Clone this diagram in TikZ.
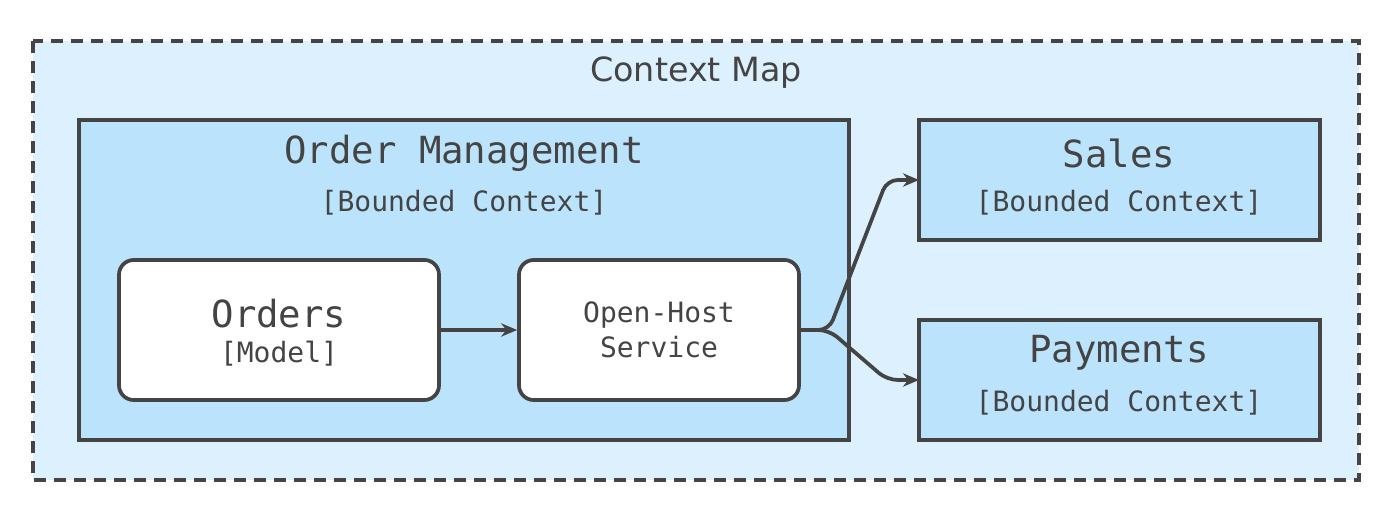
\documentclass[tikz,border=0pt]{standalone}
\usepackage{fontspec}
\setmainfont{DejaVu Sans}
\newfontfamily\mono{DejaVu Sans Mono}
\usetikzlibrary{arrows.meta}
\definecolor{ln}{HTML}{444444}
\definecolor{outer}{HTML}{DDF0FE}
\definecolor{inner}{HTML}{BBE3FB}
\begin{document}
\begin{tikzpicture}[x=0.75pt,y=-0.75pt,
  box/.style={draw=ln,line width=2.8pt,fill=inner},
  rbox/.style={draw=ln,line width=2.8pt,fill=white,rounded corners=11pt},
  arr/.style={draw=ln,line width=2.8pt,-{Stealth[length=12pt,width=10pt]},rounded corners=8pt},
  ttl/.style={font=\mono\fontsize{28}{30}\selectfont,text=ln},
  sub/.style={font=\mono\fontsize{21}{24}\selectfont,text=ln}]
\useasboundingbox (0,0) rectangle (1400,521);
\draw[ln,line width=2.8pt,dash pattern=on 9pt off 6pt,fill=outer] (33,41) rectangle (1359,480);
\node[font=\fontsize{25}{28}\selectfont,text=ln] (cm) at (696,73) {Context Map};
\draw[box] (79,120) rectangle (849,440);
\node[ttl] (omt) at (464,153) {Order Management};
\node[sub] (oms) at (464,203) {[Bounded Context]};
\draw[box] (919,120) rectangle (1320,240);
\node[ttl] (st) at (1119,153) {Sales};
\node[sub] (ss) at (1119,203) {[Bounded Context]};
\draw[box] (919,320) rectangle (1320,440);
\node[ttl] (pt) at (1119,353) {Payments};
\node[sub] (ps) at (1119,403) {[Bounded Context]};
\node[rbox,minimum width=240pt,minimum height=105pt] (orders) at (279,330) {};
\node[ttl] at (279,314) {Orders};
\node[sub] at (279,354) {[Model]};
\node[rbox,minimum width=210pt,minimum height=105pt,align=center,font=\mono\fontsize{21}{26}\selectfont,text=ln] (ohs) at (659,330) {Open-Host\\Service};
\coordinate (sw) at (919,180);
\coordinate (pw) at (919,380);
\draw[arr] (orders.east) -- (ohs.west);
\draw[arr] (ohs.east) -- (829,330) -- (887,180) -- (sw);
\draw[arr] (ohs.east) -- (829,330) -- (887,380) -- (pw);
\end{tikzpicture}
\end{document}
